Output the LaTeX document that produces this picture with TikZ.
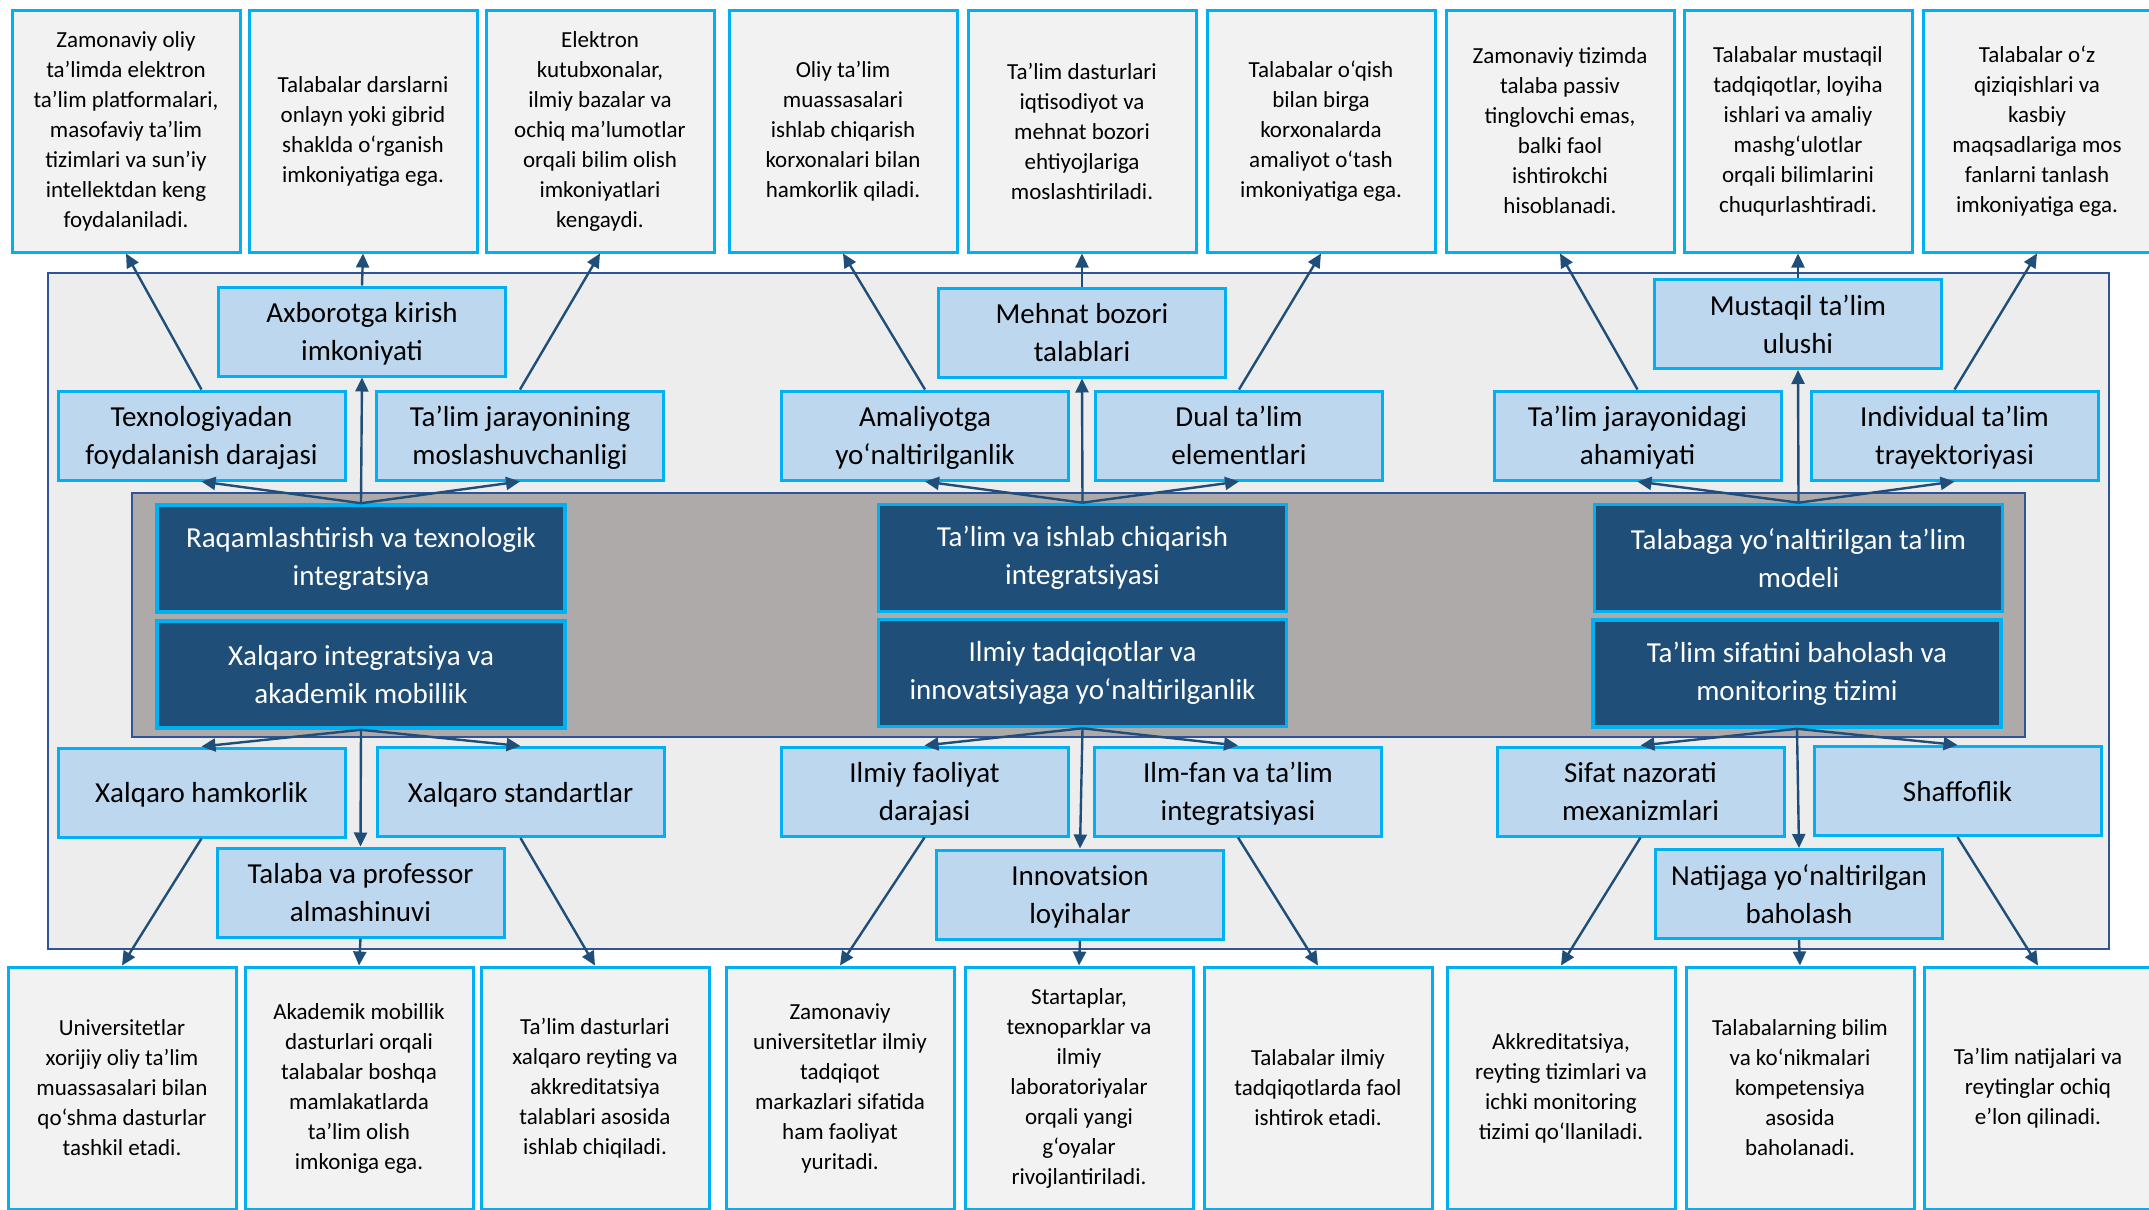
\documentclass[tikz,border=0pt]{standalone}
\usepackage{fontspec}
\setmainfont{Carlito}
\usepackage{tikz}
\usetikzlibrary{arrows.meta}
\definecolor{cyanline}{HTML}{00B0F0}
\definecolor{navy}{HTML}{1F4E79}
\definecolor{paleblue}{HTML}{BDD7EE}
\definecolor{leafgray}{HTML}{F2F2F2}
\definecolor{panelgray}{HTML}{EDEDED}
\definecolor{coregray}{HTML}{AEAAAA}
\definecolor{frameblue}{HTML}{2F5597}

\begin{document}
\begin{tikzpicture}[x=0.5pt, y=-0.5pt,
  leaf/.style={draw=cyanline, line width=1.5pt, fill=leafgray, minimum width=114pt, minimum height=121pt, align=center, inner sep=0pt, font=\fontsize{11.5}{15}\selectfont},
  mid/.style={draw=cyanline, line width=1.5pt, fill=paleblue, minimum width=143.5pt, minimum height=44.5pt, align=center, inner sep=0pt, text depth=-2.5pt, font=\fontsize{14.5}{19}\selectfont},
  core/.style={draw=cyanline, line width=1.8pt, fill=navy, text=white, minimum width=204pt, minimum height=53.5pt, align=center, inner sep=0pt, font=\fontsize{14.5}{19}\selectfont},
  arrowline/.style={navy, line width=1.2pt, -{Triangle[length=7pt,width=6.5pt]}}]
\useasboundingbox (0,0) rectangle (2149,1210);

% Background panels
\draw[frameblue, line width=1.2pt, fill=panelgray] (48,273) rectangle (2109,949);
\draw[frameblue, line width=1.2pt, fill=coregray] (132,493) rectangle (2025,737);

% Core directions
\node[core] (c1) at (361,558.5) {Raqamlashtirish va texnologik\\integratsiya};
\node[core] (c2) at (361,674.5) {Xalqaro integratsiya va\\akademik mobillik};
\node[core] (c3) at (1082.5,558) {Ta’lim va ishlab chiqarish\\integratsiyasi};
\node[core] (c4) at (1082.5,673) {Ilmiy tadqiqotlar va\\innovatsiyaga yo‘naltirilganlik};
\node[core] (c5) at (1798.5,558) {Talabaga yo‘naltirilgan ta’lim\\modeli};
\node[core] (c6) at (1797,673.5) {Ta’lim sifatini baholash va\\monitoring tizimi};

% Indicators, upper row
\node[mid] (tex) at (201.5,435.5) {Texnologiyadan\\foydalanish darajasi};
\node[mid] (axb) at (362,331.5) {Axborotga kirish\\imkoniyati};
\node[mid] (mos) at (520,435.5) {Ta’lim jarayonining\\moslashuvchanligi};
\node[mid] (ama) at (925,435.5) {Amaliyotga\\yo‘naltirilganlik};
\node[mid] (meh) at (1082,332.5) {Mehnat bozori\\talablari};
\node[mid] (dual) at (1239,435.5) {Dual ta’lim\\elementlari};
\node[mid] (aha) at (1637.5,435.5) {Ta’lim jarayonidagi\\ahamiyati};
\node[mid] (mus) at (1798,324) {Mustaqil ta’lim\\ulushi};
\node[mid] (ind) at (1954.5,435.5) {Individual ta’lim\\trayektoriyasi};

% Indicators, lower row
\node[mid] (xh) at (201.5,792.5) {Xalqaro hamkorlik};
\node[mid] (xs) at (520.5,792) {Xalqaro standartlar};
\node[mid] (alm) at (360.5,892.5) {Talaba va professor\\almashinuvi};
\node[mid] (ilf) at (924.5,791.5) {Ilmiy faoliyat\\darajasi};
\node[mid] (ilm) at (1238,791.5) {Ilm-fan va ta’lim\\integratsiyasi};
\node[mid] (inn) at (1080,894.5) {Innovatsion\\loyihalar};
\node[mid] (sif) at (1640.5,791.5) {Sifat nazorati\\mexanizmlari};
\node[mid] (sha) at (1957.5,791) {Shaffoflik};
\node[mid] (nat) at (1799,894) {Natijaga yo‘naltirilgan\\baholash};

% Descriptions, top
\node[leaf] (lt1) at (126,131) {Zamonaviy oliy\\ta’limda elektron\\ta’lim platformalari,\\masofaviy ta’lim\\tizimlari va sun’iy\\intellektdan keng\\foydalaniladi.};
\node[leaf] (lt2) at (363,131) {Talabalar darslarni\\onlayn yoki gibrid\\shaklda o‘rganish\\imkoniyatiga ega.};
\node[leaf] (lt3) at (600,131) {Elektron\\kutubxonalar,\\ilmiy bazalar va\\ochiq ma’lumotlar\\orqali bilim olish\\imkoniyatlari\\kengaydi.};
\node[leaf] (lt4) at (843,131) {Oliy ta’lim\\muassasalari\\ishlab chiqarish\\korxonalari bilan\\hamkorlik qiladi.};
\node[leaf] (lt5) at (1082,131) {Ta’lim dasturlari\\iqtisodiyot va\\mehnat bozori\\ehtiyojlariga\\moslashtiriladi.};
\node[leaf] (lt6) at (1321,131) {Talabalar o‘qish\\bilan birga\\korxonalarda\\amaliyot o‘tash\\imkoniyatiga ega.};
\node[leaf] (lt7) at (1560,131) {Zamonaviy tizimda\\talaba passiv\\tinglovchi emas,\\balki faol\\ishtirokchi\\hisoblanadi.};
\node[leaf] (lt8) at (1798,131) {Talabalar mustaqil\\tadqiqotlar, loyiha\\ishlari va amaliy\\mashg‘ulotlar\\orqali bilimlarini\\chuqurlashtiradi.};
\node[leaf] (lt9) at (2037,131) {Talabalar o‘z\\qiziqishlari va\\kasbiy\\maqsadlariga mos\\fanlarni tanlash\\imkoniyatiga ega.};

% Descriptions, bottom
\node[leaf] (lb1) at (122,1088) {Universitetlar\\xorijiy oliy ta’lim\\muassasalari bilan\\qo‘shma dasturlar\\tashkil etadi.};
\node[leaf] (lb2) at (359,1088) {Akademik mobillik\\dasturlari orqali\\talabalar boshqa\\mamlakatlarda\\ta’lim olish\\imkoniga ega.};
\node[leaf] (lb3) at (595,1088) {Ta’lim dasturlari\\xalqaro reyting va\\akkreditatsiya\\talablari asosida\\ishlab chiqiladi.};
\node[leaf] (lb4) at (840,1088) {Zamonaviy\\universitetlar ilmiy\\tadqiqot\\markazlari sifatida\\ham faoliyat\\yuritadi.};
\node[leaf] (lb5) at (1079,1088) {Startaplar,\\texnoparklar va\\ilmiy\\laboratoriyalar\\orqali yangi\\g‘oyalar\\rivojlantiriladi.};
\node[leaf] (lb6) at (1318,1088) {Talabalar ilmiy\\tadqiqotlarda faol\\ishtirok etadi.};
\node[leaf] (lb7) at (1561,1088) {Akkreditatsiya,\\reyting tizimlari va\\ichki monitoring\\tizimi qo‘llaniladi.};
\node[leaf] (lb8) at (1800,1088) {Talabalarning bilim\\va ko‘nikmalari\\kompetensiya\\asosida\\baholanadi.};
\node[leaf] (lb9) at (2038,1088) {Ta’lim natijalari va\\reytinglar ochiq\\e’lon qilinadi.};

% Core -> indicators
\draw[arrowline] (c1.north) -- (tex.south);
\draw[arrowline] (c1.north) -- (axb.south);
\draw[arrowline] (c1.north) -- (mos.south);
\draw[arrowline] (c3.north) -- (ama.south);
\draw[arrowline] (c3.north) -- (meh.south);
\draw[arrowline] (c3.north) -- (dual.south);
\draw[arrowline] (c5.north) -- (aha.south);
\draw[arrowline] (c5.north) -- (mus.south);
\draw[arrowline] (c5.north) -- (ind.south);
\draw[arrowline] (c2.south) -- (xh.north);
\draw[arrowline] (c2.south) -- (alm.north);
\draw[arrowline] (c2.south) -- (xs.north);
\draw[arrowline] (c4.south) -- (ilf.north);
\draw[arrowline] (c4.south) -- (inn.north);
\draw[arrowline] (c4.south) -- (ilm.north);
\draw[arrowline] (c6.south) -- (sif.north);
\draw[arrowline] (c6.south) -- (nat.north);
\draw[arrowline] (c6.south) -- (sha.north);

% Indicators -> descriptions
\draw[arrowline] (tex.north) -- (lt1.south);
\draw[arrowline] (axb.north) -- (lt2.south);
\draw[arrowline] (mos.north) -- (lt3.south);
\draw[arrowline] (ama.north) -- (lt4.south);
\draw[arrowline] (meh.north) -- (lt5.south);
\draw[arrowline] (dual.north) -- (lt6.south);
\draw[arrowline] (aha.north) -- (lt7.south);
\draw[arrowline] (mus.north) -- (lt8.south);
\draw[arrowline] (ind.north) -- (lt9.south);
\draw[arrowline] (xh.south) -- (lb1.north);
\draw[arrowline] (alm.south) -- (lb2.north);
\draw[arrowline] (xs.south) -- (lb3.north);
\draw[arrowline] (ilf.south) -- (lb4.north);
\draw[arrowline] (inn.south) -- (lb5.north);
\draw[arrowline] (ilm.south) -- (lb6.north);
\draw[arrowline] (sif.south) -- (lb7.north);
\draw[arrowline] (nat.south) -- (lb8.north);
\draw[arrowline] (sha.south) -- (lb9.north);
\end{tikzpicture}
\end{document}
